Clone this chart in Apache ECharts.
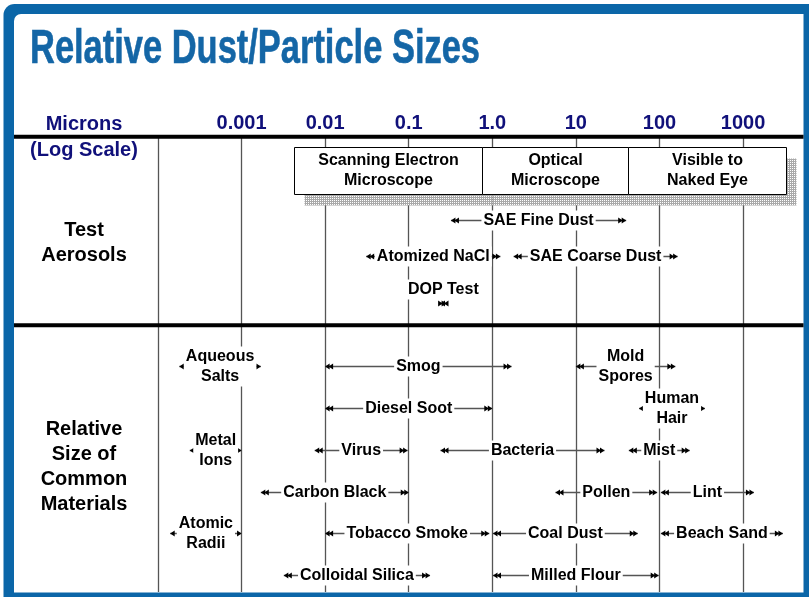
<!DOCTYPE html>
<html>
<head>
<meta charset="utf-8">
<title>Relative Dust/Particle Sizes</title>
<script src="https://cdn.jsdelivr.net/npm/echarts@6.0.0/dist/echarts.min.js"></script>
<style>
  html, body { margin: 0; padding: 0; background: #fff; }
  #main { width: 809px; height: 597px; }
</style>
</head>
<body>
<div id="main"></div>
<script>
// axis ticks (microns, log scale)
const tickValues = [0.001, 0.01, 0.1, 1, 10, 100, 1000];
const tickLabels = ['0.001', '0.01', '0.1', '1.0', '10', '100', '1000'];

// what you need to see a particle
const scopeNames = ['Scanning Electron\nMicroscope', 'Optical\nMicroscope', 'Visible to\nNaked Eye'];
const scopeLo = [0.0042, 0.755, 42];
const scopeHi = [0.755, 42, 3250];

// test aerosols (row = lane from the top)
const aerosolNames = ['SAE Fine Dust', 'Atomized NaCl', 'SAE Coarse Dust', 'DOP Test'];
const aerosolLo = [0.32, 0.031, 1.8, 0.24];
const aerosolHi = [40, 1.25, 165, 0.28];
const aerosolRow = [2.0, 2.87, 2.87, 4.0];

// common materials
const materialNames = [
  'Aqueous\nSalts', 'Smog', 'Mold\nSpores',
  'Diesel Soot', 'Human\nHair',
  'Metal\nIons', 'Virus', 'Bacteria', 'Mist',
  'Carbon Black', 'Pollen', 'Lint',
  'Atomic\nRadii', 'Tobacco Smoke', 'Coal Dust', 'Beach Sand',
  'Colloidal Silica', 'Milled Flour'
];
const materialLo = [
  0.00018, 0.01, 10,
  0.01, 57,
  0.00024, 0.0075, 0.24, 43,
  0.0017, 5.7, 104,
  0.00014, 0.01, 1.02, 104,
  0.0032, 1.02
];
const materialHi = [
  0.0017, 1.7, 155,
  1.0, 350,
  0.001, 0.097, 22, 230,
  0.1, 94, 1350,
  0.001, 0.92, 55, 3000,
  0.18, 98
];
const materialRow = [
  5.5, 5.5, 5.5,
  6.5, 6.5,
  7.5, 7.5, 7.5, 7.5,
  8.5, 8.5, 8.5,
  9.5, 9.5, 9.5, 9.5,
  10.5, 10.5
];

// labels drawn with a single arrowhead / label above the arrow
const singleHead = ['Aqueous\nSalts', 'Human\nHair', 'Metal\nIons', 'Atomic\nRadii'];
const labelAbove = ['DOP Test'];

const FONT = '"Liberation Sans", Arial, sans-serif';
const LABEL_FONT = 'bold 16px ' + FONT;
const NAVY = '#10107a';
const BLUE = '#0b66a8';
const BOX_TOP = 0.27;
const BOX_BOTTOM = 1.39;

// title is a condensed face, squeeze it to the width of the original
const TITLE = 'Relative Dust/Particle Sizes';
const TITLE_FONT = 'bold 48px "Liberation Sans Narrow", "Liberation Sans", sans-serif';
const mctx = document.createElement('canvas').getContext('2d');
mctx.font = TITLE_FONT;
const titleScale = 450 / mctx.measureText(TITLE).width;

// dotted grey shadow
const pat = document.createElement('canvas');
pat.width = 2; pat.height = 2;
const pctx = pat.getContext('2d');
pctx.fillStyle = '#a9a9a9';
pctx.fillRect(0, 0, 2, 2);
pctx.fillStyle = '#ffffff';
pctx.fillRect(0, 0, 1, 1);
const shadowFill = { image: pat, repeat: 'repeat' };

function tickFormatter(v) {
  for (let i = 0; i < tickValues.length; i++) {
    if (Math.abs(Math.log10(v) - Math.log10(tickValues[i])) < 1e-6) return tickLabels[i];
  }
  return '';
}

function head(x, y, dir) {
  // dir -1 points left, +1 points right
  return {
    type: 'polygon',
    shape: { points: [[x, y], [x - dir * 4.5, y - 3], [x - dir * 4.5, y + 3]] },
    style: { fill: '#000' }
  };
}

function rangeRenderer(names) {
  return function (params, api) {
    const name = names[params.dataIndex];
    const a = api.coord([api.value(0), api.value(2)]);
    const b = api.coord([api.value(1), api.value(2)]);
    const y = Math.round(a[1]) + 0.5;
    const x1 = a[0], x2 = b[0];
    const above = labelAbove.indexOf(name) >= 0;
    const children = [
      { type: 'line', shape: { x1: x1, y1: y, x2: x2, y2: y }, style: { stroke: '#555', lineWidth: 1.5 } },
      head(x1, y, -1),
      head(x2, y, 1)
    ];
    if (singleHead.indexOf(name) < 0) {
      children.push(head(x1 + 3.5, y, -1), head(x2 - 3.5, y, 1));
    }
    children.push({
      type: 'text',
      style: {
        text: name,
        x: (x1 + x2) / 2,
        y: above ? y - 14 : y,
        align: 'center',
        verticalAlign: 'middle',
        font: LABEL_FONT,
        fill: '#000',
        lineHeight: 20,
        backgroundColor: '#fff',
        padding: [0, 2]
      }
    });
    return { type: 'group', children: children };
  };
}

function renderScope(params, api) {
  const a = api.coord([api.value(0), BOX_TOP]);
  const b = api.coord([api.value(1), BOX_BOTTOM]);
  const x = Math.round(a[0]) + 0.5;
  const y = Math.round(a[1]) + 0.5;
  const w = Math.round(b[0]) - Math.round(a[0]);
  const h = Math.round(b[1]) - Math.round(a[1]);
  return {
    type: 'group',
    children: [
      { type: 'rect', z2: 0, shape: { x: x + 10, y: y + 11, width: w, height: h }, style: { fill: shadowFill } },
      { type: 'rect', z2: 1, shape: { x: x, y: y, width: w, height: h }, style: { fill: '#fff', stroke: '#000', lineWidth: 1 } },
      {
        type: 'text', z2: 2,
        style: {
          text: scopeNames[params.dataIndex], x: x + w / 2, y: y + h / 2,
          align: 'center', verticalAlign: 'middle', font: LABEL_FONT, fill: '#000', lineHeight: 20
        }
      }
    ]
  };
}

const chart = echarts.init(document.getElementById('main'));

const option = {
  backgroundColor: '#fff',
  animation: false,
  grid: { left: 158, right: 6, top: 136, bottom: 5 },
  xAxis: {
    type: 'log',
    logBase: 10,
    min: 0.0001,
    max: 5220,
    position: 'top',
    axisLine: { show: false },
    axisTick: { show: false },
    axisLabel: {
      margin: 3,
      color: NAVY,
      fontSize: 20,
      fontWeight: 'bold',
      fontFamily: FONT,
      showMinLabel: false,
      showMaxLabel: false,
      formatter: tickFormatter
    },
    splitLine: { show: true, showMaxLine: false, lineStyle: { color: '#555', width: 1.3 } }
  },
  yAxis: { type: 'value', min: 0, max: 10.9, inverse: true, show: false },
  graphic: [
    // frame
    { type: 'rect', z: -10, shape: { x: 3.5, y: 4, width: 830, height: 620, r: 11 }, style: { fill: BLUE } },
    { type: 'rect', z: -9, shape: { x: 14, y: 14, width: 789.5, height: 578.5, r: [7, 0, 0, 0] }, style: { fill: '#fff' } },
    // heavy rules
    { type: 'rect', z: 10, shape: { x: 14, y: 134.7, width: 789.5, height: 4 }, style: { fill: '#000' } },
    { type: 'rect', z: 10, shape: { x: 14, y: 323.3, width: 789.5, height: 4 }, style: { fill: '#000' } },
    {
      type: 'text', z: 10, x: 30, y: 50, scaleX: titleScale,
      style: {
        text: TITLE, x: 0, y: 0, font: TITLE_FONT, fill: '#1466a6',
        stroke: '#1466a6', lineWidth: 0.6, verticalAlign: 'middle'
      }
    },
    {
      type: 'text', z: 10,
      style: { text: 'Microns', x: 84, y: 124, align: 'center', verticalAlign: 'middle', font: 'bold 20px ' + FONT, fill: NAVY }
    },
    {
      type: 'text', z: 10,
      style: { text: '(Log Scale)', x: 84, y: 150, align: 'center', verticalAlign: 'middle', font: 'bold 20px ' + FONT, fill: NAVY }
    },
    {
      type: 'text', z: 10,
      style: { text: 'Test\nAerosols', x: 84, y: 242.5, align: 'center', verticalAlign: 'middle', font: 'bold 20px ' + FONT, fill: '#000', lineHeight: 25 }
    },
    {
      type: 'text', z: 10,
      style: { text: 'Relative\nSize of\nCommon\nMaterials', x: 84, y: 467, align: 'center', verticalAlign: 'middle', font: 'bold 20px ' + FONT, fill: '#000', lineHeight: 25 }
    }
  ],
  series: [
    {
      type: 'custom',
      name: 'scopes',
      silent: true,
      clip: false,
      renderItem: renderScope,
      encode: { x: [0, 1] },
      data: scopeLo.map((v, i) => [v, scopeHi[i]])
    },
    {
      type: 'custom',
      name: 'aerosols',
      silent: true,
      clip: false,
      renderItem: rangeRenderer(aerosolNames),
      encode: { x: [0, 1], y: 2 },
      data: aerosolLo.map((v, i) => [v, aerosolHi[i], aerosolRow[i]])
    },
    {
      type: 'custom',
      name: 'materials',
      silent: true,
      clip: false,
      renderItem: rangeRenderer(materialNames),
      encode: { x: [0, 1], y: 2 },
      data: materialLo.map((v, i) => [v, materialHi[i], materialRow[i]])
    }
  ]
};

chart.setOption(option);
</script>
</body>
</html>
